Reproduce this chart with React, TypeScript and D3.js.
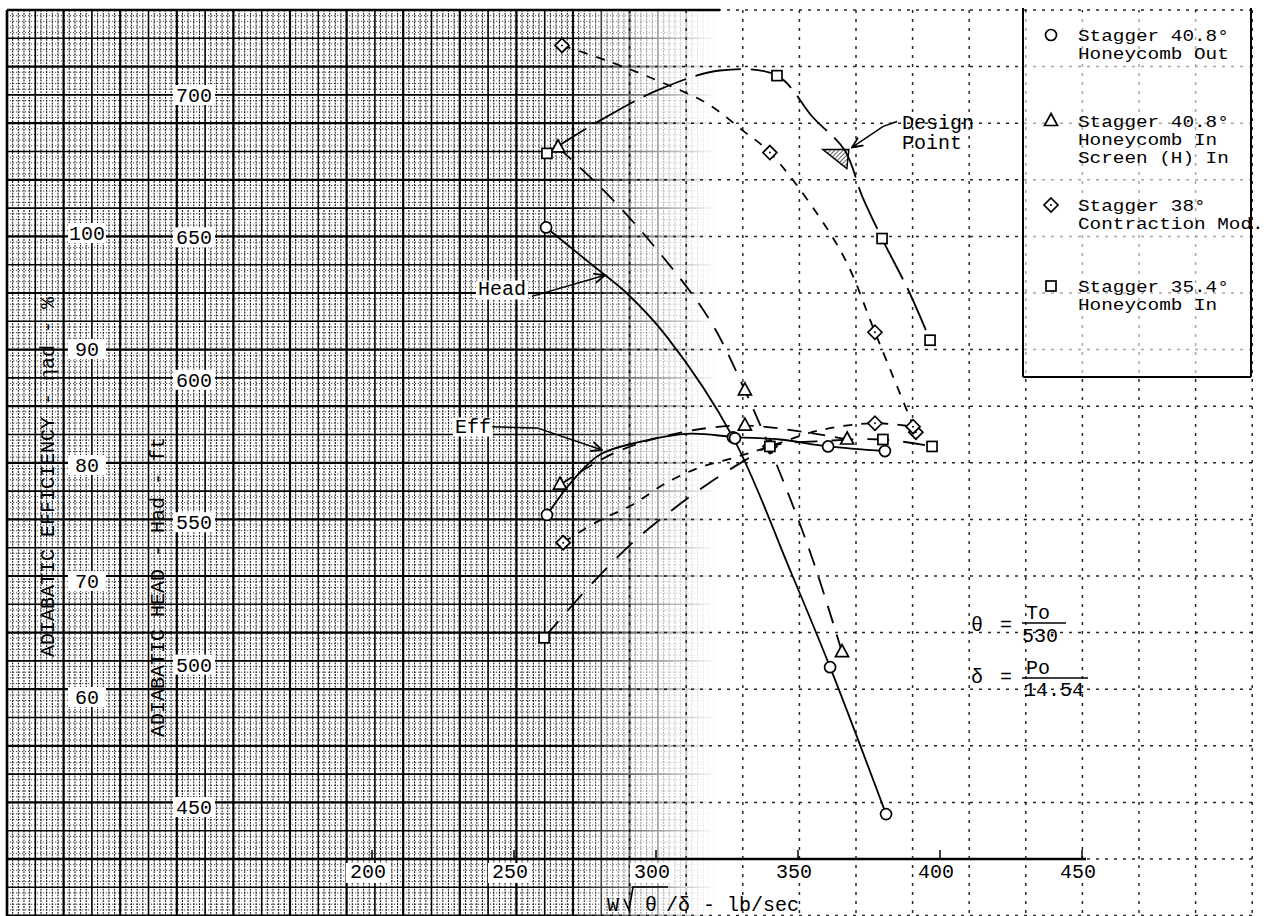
import React from 'react';
import * as d3 from 'd3';

type Pt = [number, number];

// axis ticks
const flowTicks = [200, 250, 300, 350, 400, 450];
const effTicks = [60, 70, 80, 90, 100];
const headTicks = [450, 500, 550, 600, 650, 700];

// Stagger 40.8°, Honeycomb Out (circles)
const circleHeadPts: Pt[] = [[261.3, 653.5], [327.1, 579.8], [361.3, 499.1], [381.0, 447.5]];
const circleHeadLine: Pt[] = [[261.3, 653.5], [276.8, 640.9], [289.8, 630.3], [303.9, 615.0], [327.1, 579.8], [347.2, 533.2], [361.3, 499.1], [381.0, 447.5]];
const circleEffPts: Pt[] = [[261.6, 75.7], [327.8, 82.3], [360.6, 81.6], [380.6, 81.2]];
const circleEffLine: Pt[] = [[261.6, 75.7], [270.8, 78.7], [280.3, 80.9], [294.4, 82.0], [312.0, 82.7], [327.8, 82.4], [343.7, 82.2], [360.6, 81.6], [380.6, 81.2]];

// Stagger 40.8°, Honeycomb In, Screen (H) In (triangles)
const triHeadPts: Pt[] = [[265.5, 681.6], [331.3, 596.3], [365.5, 504.4]];
const triHeadLine: Pt[] = [[265.5, 681.6], [282.7, 665.4], [301.4, 644.4], [319.0, 620.9], [331.3, 596.3], [343.7, 567.2], [354.9, 537.7], [365.5, 504.4]];
const triEffPts: Pt[] = [[266.2, 78.3], [331.3, 83.4], [367.3, 82.2]];
const triEffLine: Pt[] = [[266.2, 78.3], [285.0, 81.0], [305.0, 82.6], [331.3, 83.4], [367.3, 82.2]];

// Stagger 38°, Contraction Mod. (diamonds)
const diaHeadPts: Pt[] = [[266.9, 717.4], [340.1, 679.8], [377.1, 616.7], [391.5, 581.6]];
const diaHeadLine: Pt[] = [[266.9, 717.4], [282.7, 712.1], [300.4, 705.1], [318.0, 697.0], [330.6, 687.5], [340.1, 679.8], [356.7, 658.4], [367.3, 640.9], [377.1, 616.7], [391.5, 581.6]];
const diaEffPts: Pt[] = [[267.3, 73.3], [340.1, 81.6], [377.1, 83.6], [390.5, 83.3]];
const diaEffLine: Pt[] = [[267.3, 73.3], [279.2, 75.1], [291.9, 76.6], [303.9, 78.5], [315.5, 79.8], [327.1, 80.6], [340.1, 81.6], [357.7, 83.0], [377.1, 83.6], [390.5, 83.3]];

// Stagger 35.4°, Honeycomb In (squares)
const sqHeadPts: Pt[] = [[261.6, 679.5], [342.6, 706.8], [379.6, 649.6], [396.5, 613.9]];
const sqHeadLine: Pt[] = [[261.6, 679.5], [279.2, 690.4], [300.4, 701.6], [322.5, 708.6], [342.6, 706.8], [355.3, 692.1], [366.5, 680.5], [372.5, 664.7], [379.6, 649.6], [389.4, 630.3], [396.5, 613.9]];
const sqEffPts: Pt[] = [[260.6, 65.1], [340.1, 81.6], [379.9, 82.2], [397.2, 81.6]];
const sqEffLine: Pt[] = [[260.6, 65.1], [277.5, 69.8], [292.6, 73.5], [305.6, 76.1], [319.0, 78.5], [331.3, 80.4], [340.1, 81.6], [361.3, 82.1], [379.9, 82.2], [397.2, 81.6]];

const designPoint: Pt = [366.5, 680.5];

const legendEntries = [
  { marker: 'circle', lines: ['Stagger 40.8°', 'Honeycomb Out'] },
  { marker: 'triangle', lines: ['Stagger 40.8°', 'Honeycomb In', 'Screen (H) In'] },
  { marker: 'diamond', lines: ['Stagger 38°', 'Contraction Mod.'] },
  { marker: 'square', lines: ['Stagger 35.4°', 'Honeycomb In'] },
];

const series = [
  { marker: 'circle', headLine: circleHeadLine, headPts: circleHeadPts, effLine: circleEffLine, effPts: circleEffPts, headDash: null, effDash: null },
  { marker: 'triangle', headLine: triHeadLine, headPts: triHeadPts, effLine: triEffLine, effPts: triEffPts, headDash: '18 12', effDash: '14 10' },
  { marker: 'diamond', headLine: diaHeadLine, headPts: diaHeadPts, effLine: diaEffLine, effPts: diaEffPts, headDash: '9 9', effDash: '9 9' },
  { marker: 'square', headLine: sqHeadLine, headPts: sqHeadPts, effLine: sqEffLine, effPts: sqEffPts, headDash: '46 10', effDash: '22 14' },
];

const FONT = "'Liberation Mono', 'DejaVu Sans Mono', monospace";
const GX0 = 7, GY0 = 10, STEP = 28.3, NCOL = 44, NROW = 32;

function Marker({ kind, cx, cy }: { kind: string; cx: number; cy: number }) {
  const st = { fill: '#fff', stroke: '#000', strokeWidth: 1.7 };
  if (kind === 'circle') return <circle cx={cx} cy={cy} r={5.5} {...st} />;
  if (kind === 'triangle')
    return <polygon points={`${cx},${cy - 7.5} ${cx + 6.5},${cy + 4.5} ${cx - 6.5},${cy + 4.5}`} {...st} />;
  if (kind === 'diamond')
    return (
      <g>
        <polygon points={`${cx},${cy - 7} ${cx + 7},${cy} ${cx},${cy + 7} ${cx - 7},${cy}`} {...st} />
        <circle cx={cx} cy={cy} r={1} fill="#000" />
      </g>
    );
  return <rect x={cx - 5} y={cy - 5} width={10} height={10} {...st} />;
}

export default function App() {
  const x = d3.scaleLinear().domain([200, 450]).range([372, 1082]);
  const yEff = d3.scaleLinear().domain([60, 100]).range([697, 233]);
  const yHead = d3.scaleLinear().domain([450, 700]).range([807, 95]);

  const headPath = d3.line<Pt>().x(d => x(d[0])).y(d => yHead(d[1])).curve(d3.curveCatmullRom.alpha(0.5));
  const effPath = d3.line<Pt>().x(d => x(d[0])).y(d => yEff(d[1])).curve(d3.curveCatmullRom.alpha(0.5));
  const poly = (pts: Pt[], y: d3.ScaleLinear<number, number>) => d3.line<Pt>().x(d => x(d[0])).y(d => y(d[1]))(pts) || '';

  const gx1 = GX0 + NCOL * STEP;
  const gy1 = GY0 + NROW * STEP;
  const cols = d3.range(0, NCOL + 1).map(k => GX0 + k * STEP);
  const rows = d3.range(0, NROW + 1).map(k => GY0 + k * STEP);
  const minorCols = d3.range(0, NCOL * 5).filter(i => i % 5 !== 0).map(i => GX0 + (i * STEP) / 5);
  const minorRows = d3.range(0, NROW * 5).filter(i => i % 5 !== 0).map(i => GY0 + (i * STEP) / 5);
  const axisY = rows[30];

  const dp = [x(designPoint[0]), yHead(designPoint[1])];

  return (
    <svg width={1280} height={916} style={{ position: 'absolute', left: 0, top: 0, background: '#fff' }} fontFamily={FONT}>
      <defs>
        <linearGradient id="fade" gradientUnits="userSpaceOnUse" x1={0} y1={0} x2={1280} y2={0}>
          <stop offset={0.44} stopColor="#fff" stopOpacity={1} />
          <stop offset={0.56} stopColor="#fff" stopOpacity={0} />
        </linearGradient>
        <mask id="dense">
          <rect width={1280} height={916} fill="url(#fade)" />
        </mask>
        <pattern id="hatch" width={3} height={3} patternUnits="userSpaceOnUse" patternTransform="rotate(45)">
          <line x1={0} y1={0} x2={0} y2={3} stroke="#000" strokeWidth={1.2} />
        </pattern>
        <marker id="arrow" viewBox="0 0 10 10" refX={9} refY={5} markerWidth={8} markerHeight={8} orient="auto">
          <path d="M0,1 L9,5 L0,9" fill="none" stroke="#000" strokeWidth={1.5} />
        </marker>
      </defs>

      {/* graph paper */}
      <g mask="url(#dense)" stroke="#000">
        {minorCols.map((c, i) => (
          <line key={'mc' + i} x1={c} x2={c} y1={GY0} y2={gy1} strokeWidth={1.1} strokeDasharray="1.8 1.1" opacity={0.9} />
        ))}
        {minorRows.map((r, i) => (
          <line key={'mr' + i} x1={GX0} x2={gx1} y1={r} y2={r} strokeWidth={1} strokeDasharray="1.2 1.8" opacity={0.75} />
        ))}
        {cols.map((c, i) => (
          <line key={'c' + i} x1={c} x2={c} y1={GY0} y2={gy1} strokeWidth={i % 2 === 0 ? 2.2 : 1.6} />
        ))}
        {rows.map((r, i) => (
          <line key={'r' + i} x1={GX0} x2={gx1} y1={r} y2={r} strokeWidth={i % 2 === 0 ? 2.2 : 1.6} />
        ))}
      </g>
      <g stroke="#000" opacity={0.85}>
        {cols.filter((_, i) => i % 2 === 0).map((c, i) => (
          <line key={'dc' + i} x1={c} x2={c} y1={GY0} y2={gy1} strokeWidth={1.5} strokeDasharray="3 6" />
        ))}
        {rows.filter((_, i) => i % 2 === 0).map((r, i) => (
          <line key={'dr' + i} x1={GX0} x2={gx1} y1={r} y2={r} strokeWidth={1.5} strokeDasharray="3 6" />
        ))}
      </g>
      <line x1={GX0} x2={GX0} y1={GY0} y2={916} stroke="#000" strokeWidth={2.5} />
      <line x1={GX0} x2={720} y1={GY0} y2={GY0} stroke="#000" strokeWidth={2.5} />

      {/* x axis */}
      <line x1={GX0} x2={x(450) + 4} y1={axisY} y2={axisY} stroke="#000" strokeWidth={2.5} />
      {flowTicks.map(t => (
        <g key={'xt' + t}>
          <line x1={x(t)} x2={x(t)} y1={axisY} y2={axisY - 9} stroke="#000" strokeWidth={1.5} />
          <rect x={x(t) - 26} y={axisY + 4} width={44} height={20} fill="#fff" />
          <text x={x(t) - 4} y={axisY + 19} textAnchor="middle" fontSize={20}>{t}</text>
        </g>
      ))}
      <g fontSize={20}>
        <text x={607} y={911}>W</text>
        <path d="M624,899 L629,910 L633,887 L668,887" fill="none" stroke="#000" strokeWidth={1.6} />
        <text x={645} y={911}>θ</text>
        <text x={666} y={911}>/δ</text>
        <text x={703} y={911}>- lb/sec</text>
      </g>

      {/* y axes labels */}
      {effTicks.map(t => (
        <g key={'ye' + t}>
          <rect x={68} y={yEff(t) - 10} width={38} height={20} fill="#fff" />
          <text x={87} y={yEff(t) + 7} textAnchor="middle" fontSize={20}>{t}</text>
        </g>
      ))}
      {headTicks.map(t => (
        <g key={'yh' + t}>
          <rect x={173} y={yHead(t) - 10} width={42} height={20} fill="#fff" />
          <text x={194} y={yHead(t) + 7} textAnchor="middle" fontSize={20}>{t}</text>
        </g>
      ))}
      <text transform="translate(54,657) rotate(-90)" fontSize={20}>ADIABATIC EFFICIENCY - ηad - %</text>
      <text transform="translate(164,737) rotate(-90)" fontSize={20}>ADIABATIC HEAD - Had - ft</text>

      {/* curves */}
      <g fill="none" stroke="#000" strokeWidth={1.8}>
        {series.map((s, i) => (
          <g key={'s' + i}>
            <path d={headPath(s.headLine) || ''} strokeDasharray={s.headDash || undefined} />
            <path d={effPath(s.effLine) || ''} strokeDasharray={s.effDash || undefined} />
          </g>
        ))}
      </g>
      {series.map((s, i) => (
        <g key={'m' + i}>
          {s.headPts.map((p, j) => <Marker key={'h' + j} kind={s.marker} cx={x(p[0])} cy={yHead(p[1])} />)}
          {s.effPts.map((p, j) => <Marker key={'e' + j} kind={s.marker} cx={x(p[0])} cy={yEff(p[1])} />)}
        </g>
      ))}

      {/* design point */}
      <polygon points={`${dp[0] - 22},${dp[1] - 1} ${dp[0] + 4},${dp[1] - 1} ${dp[0] + 2},${dp[1] + 18}`} fill="url(#hatch)" stroke="#000" strokeWidth={1.5} />

      {/* annotations */}
      <g fontSize={20}>
        <rect x={x(237.3) - 2} y={yHead(629.6) - 15} width={52} height={19} fill="#fff" />
        <text x={x(237.3)} y={yHead(629.6)}>Head</text>
        <path d={poly([[256.3, 629.3], [282.0, 636.7]], yHead)} fill="none" stroke="#000" strokeWidth={1.5} markerEnd="url(#arrow)" />

        <rect x={x(229.2) - 2} y={yEff(82.8) - 15} width={40} height={19} fill="#fff" />
        <text x={x(229.2)} y={yEff(82.8)}>Eff</text>
        <path d={poly([[242.3, 83.3], [258.1, 83.2], [281.0, 81.3]], yEff)} fill="none" stroke="#000" strokeWidth={1.5} markerEnd="url(#arrow)" />

        <text x={x(386.6)} y={yHead(688.2)}>Design</text>
        <text x={x(386.6)} y={yHead(680.9)}>Point</text>
        <path d={poly([[384.9, 690.7], [380.0, 689.0], [369.0, 681.6]], yHead)} fill="none" stroke="#000" strokeWidth={1.5} markerEnd="url(#arrow)" />
      </g>

      {/* corrected flow definitions */}
      <g fontSize={20}>
        <text x={977} y={631} textAnchor="middle">θ</text>
        <text x={1006} y={631} textAnchor="middle">=</text>
        <text x={1038} y={619} textAnchor="middle">To</text>
        <line x1={1022} x2={1066} y1={623} y2={623} stroke="#000" strokeWidth={1.5} />
        <text x={1040} y={642} textAnchor="middle">530</text>
        <text x={977} y={683} textAnchor="middle">δ</text>
        <text x={1006} y={683} textAnchor="middle">=</text>
        <text x={1038} y={674} textAnchor="middle">Po</text>
        <line x1={1022} x2={1088} y1={678} y2={678} stroke="#000" strokeWidth={1.5} />
        <text x={1054} y={696} textAnchor="middle">14.54</text>
      </g>

      {/* legend */}
      <g>
        <rect x={1023} y={12} width={228} height={365} fill="#fff" opacity={0.6} />
        <line x1={1023} x2={1023} y1={8} y2={377} stroke="#000" strokeWidth={2} />
        <line x1={1023} x2={1251} y1={377} y2={377} stroke="#000" strokeWidth={2} />
        <line x1={1251} x2={1251} y1={8} y2={377} stroke="#000" strokeWidth={2} />
        {legendEntries.map((e, i) => {
          const top = [41, 127, 211, 292][i];
          return (
            <g key={'l' + i}>
              <Marker kind={e.marker} cx={1051} cy={top - 6} />
              {e.lines.map((ln, j) => (
                <text key={j} x={1078} y={top + j * 18} fontSize={16} textLength={ln.length * 11.6} lengthAdjust="spacingAndGlyphs">{ln}</text>
              ))}
            </g>
          );
        })}
      </g>
    </svg>
  );
}
